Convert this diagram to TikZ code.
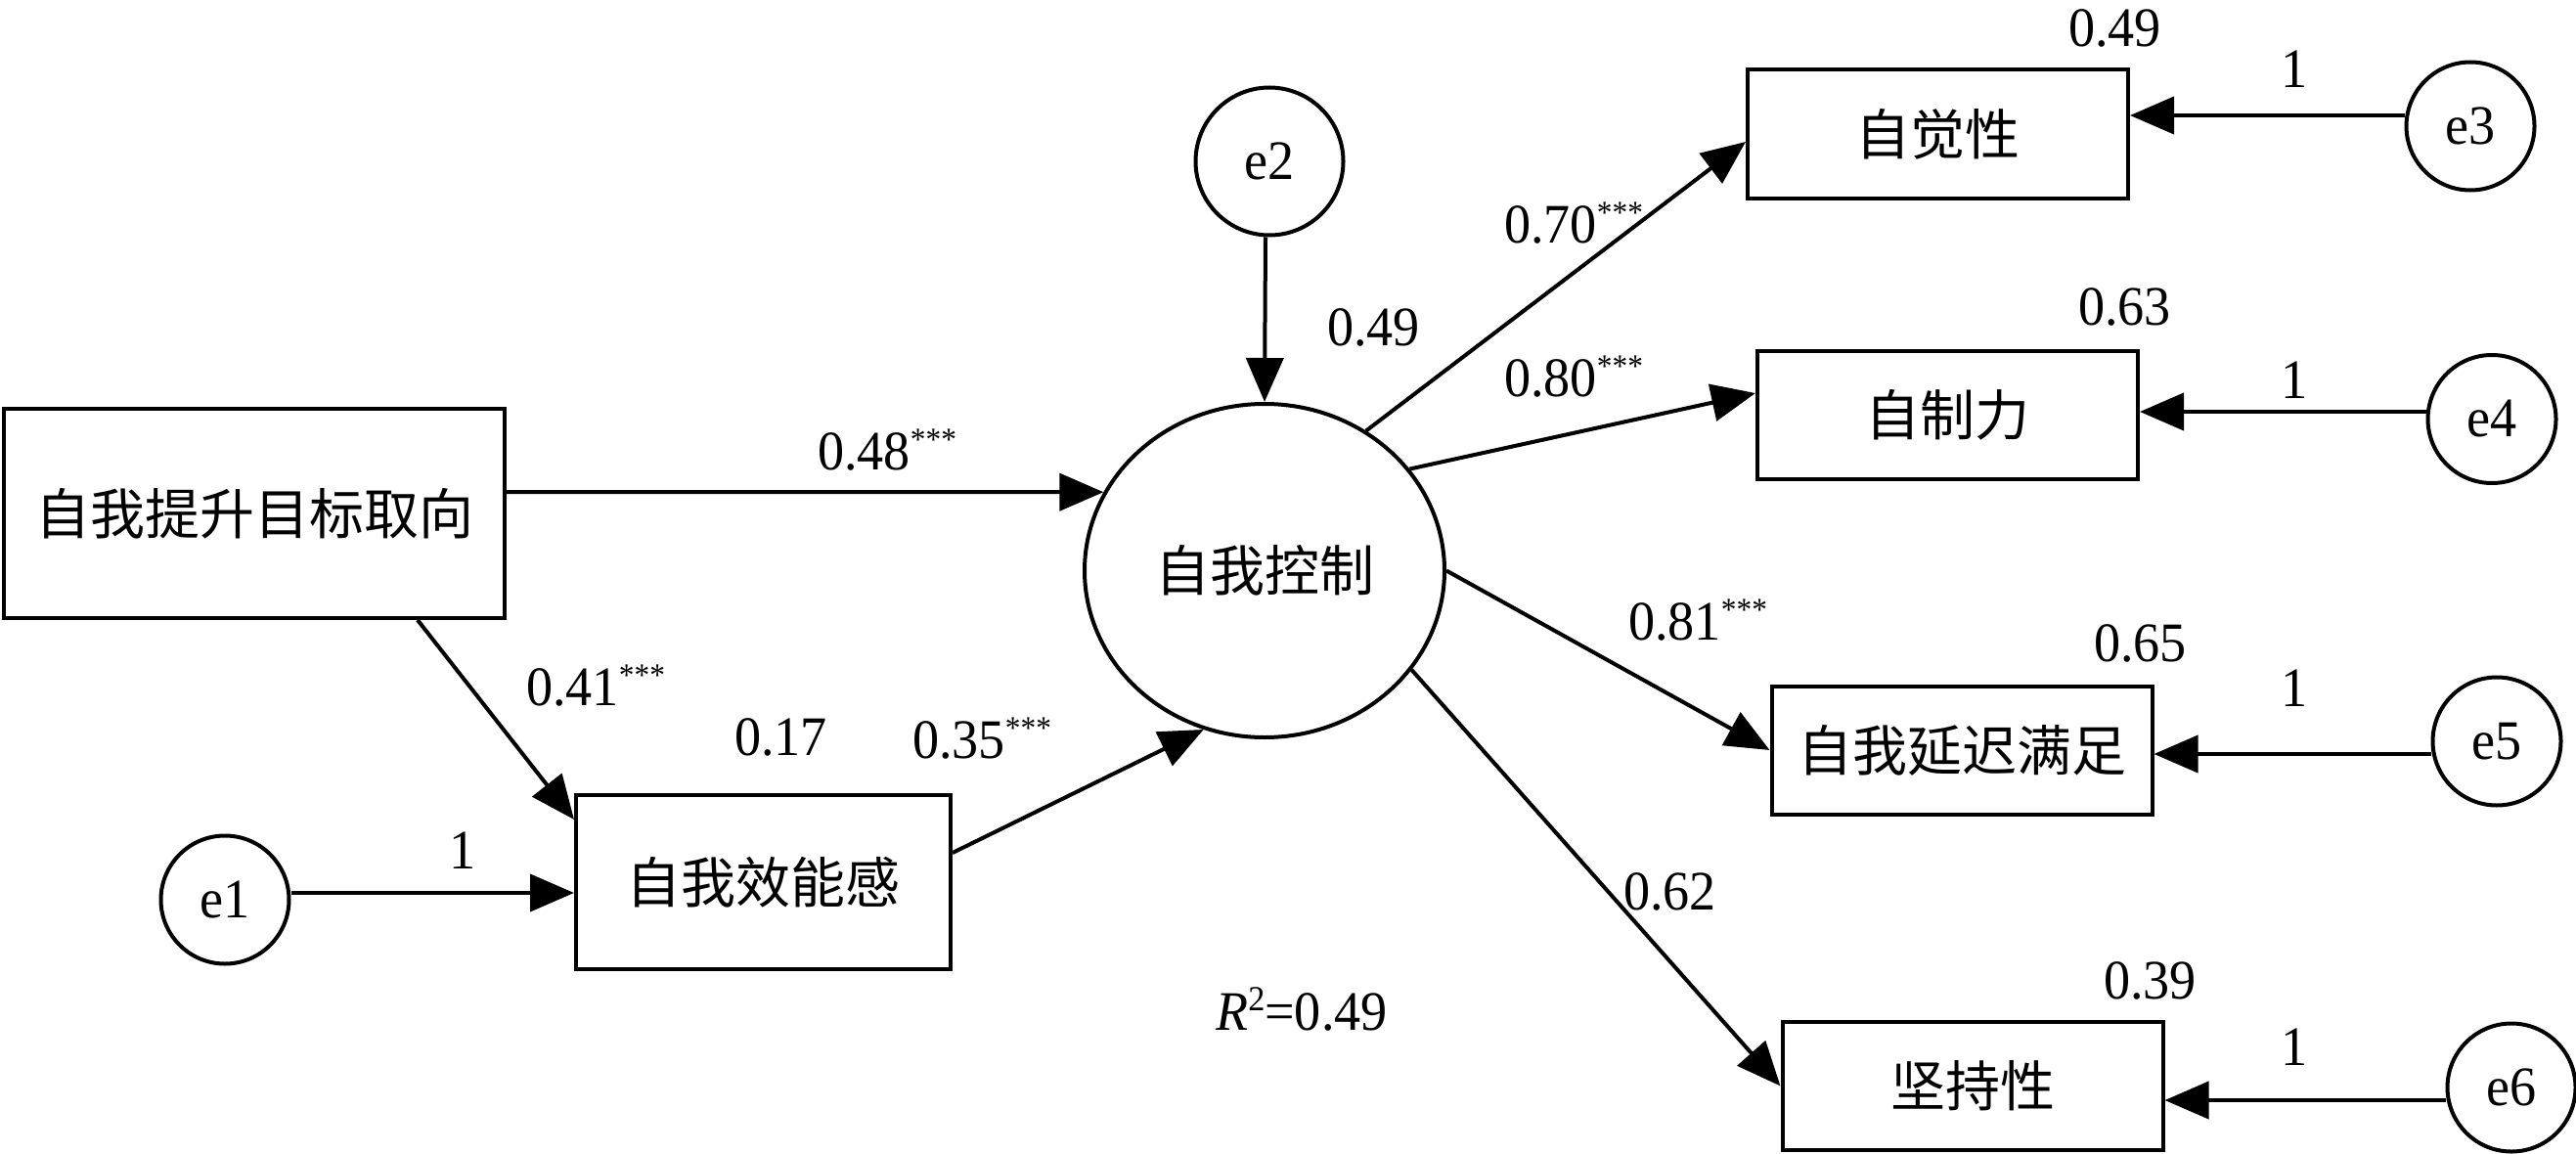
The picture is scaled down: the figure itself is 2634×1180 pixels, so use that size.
\documentclass[tikz,border=0pt]{standalone}
\usepackage{fontspec}
\setmainfont[FakeStretch=0.95]{Liberation Serif}
\newfontfamily\cjk{Noto Sans CJK SC}
\usetikzlibrary{arrows.meta,shapes.geometric}
\newcommand\stars{\raisebox{20pt}{\fontsize{33}{33}\selectfont ***}}
\begin{document}
\begin{tikzpicture}[x=1pt,y=-1pt,
  box/.style={draw,line width=4pt,inner sep=0pt,font=\cjk\fontsize{56}{60}\selectfont},
  obs/.style={box,minimum width=389pt,minimum height=131pt},
  err/.style={draw,circle,line width=4pt,inner sep=0pt,minimum size=131pt,font=\fontsize{57}{60}\selectfont},
  arr/.style={line width=4pt,-{Triangle[length=45pt,width=38pt]}},
  lab/.style={anchor=base west,inner sep=0pt,font=\fontsize{57}{60}\selectfont}]
\useasboundingbox (0,0) rectangle (2634,1180);
% nodes
\node[box,minimum width=512pt,minimum height=214pt] (goal) at (260,525) {自我提升目标取向};
\node[box,minimum width=383pt,minimum height=178pt] (eff) at (780.5,902) {自我效能感};
\node[draw,ellipse,line width=4pt,inner sep=0pt,minimum width=368pt,minimum height=341pt,
      font=\cjk\fontsize{56}{60}\selectfont] (ctrl) at (1293,583.5) {自我控制};
\node[err,minimum size=151pt] (e2) at (1298,165) {e2};
\node[err] (e1) at (230,920) {e1};
\node[obs] (zjx) at (1981.5,137) {自觉性};
\node[obs] (zzl) at (1991.5,424) {自制力};
\node[obs] (ycmz) at (2006,767) {自我延迟满足};
\node[obs] (jcx) at (2017,1110.5) {坚持性};
\node[err] (e3) at (2526,129) {e3};
\node[err] (e4) at (2548,428.5) {e4};
\node[err] (e5) at (2553,758) {e5};
\node[err] (e6) at (2568,1112) {e6};
% connectors
\draw[arr] ([yshift=22pt]goal.east) -- (ctrl.154);
\draw[arr] ([xshift=167pt]goal.south) -- ([yshift=64pt]eff.west);
\draw[arr] ([yshift=7pt]e1.east) -- ([yshift=-11pt]eff.west);
\draw[arr] ([yshift=30pt]eff.east) -- (ctrl.249);
\draw[arr] ([xshift=-4pt]e2.south) -- (ctrl.north);
\draw[arr] (ctrl.54) -- ([yshift=-8pt]zjx.west);
\draw[arr] (ctrl.35) -- ([yshift=22pt]zzl.west);
\draw[arr] (ctrl.east) -- (ycmz.west);
\draw[arr] (ctrl.-34) -- (jcx.west);
\draw[arr] ([yshift=11pt]e3.west) -- ([yshift=19pt]zjx.east);
\draw[arr] ([yshift=7.5pt]e4.west) -- ([yshift=3pt]zzl.east);
\draw[arr] ([yshift=-13pt]e5.west) -- ([yshift=-4pt]ycmz.east);
\draw[arr] ([yshift=-13pt]e6.west) -- ([yshift=-14.5pt]jcx.east);
% labels
\node[lab] (l48) at (836,480) {0.48\stars};
\node[lab] (l41) at (538,721) {0.41\stars};
\node[lab] (l17) at (751,772) {0.17};
\node[lab] (l35) at (933,775) {0.35\stars};
\node[lab] (l1a) at (459,888) {1};
\node[lab] (lc49) at (1357,353) {0.49};
\node[lab] (l70) at (1538,248) {0.70\stars};
\node[lab] (l80) at (1538,405) {0.80\stars};
\node[lab] (l81) at (1665,654) {0.81\stars};
\node[lab] (l62) at (1660,930) {0.62};
\node[lab] (lr2) at (1243,1053) {\textit{R}\raisebox{20pt}{\fontsize{36}{36}\selectfont 2}=0.49};
\node[lab] (l49) at (2115,48) {0.49};
\node[lab] (l1b) at (2332,90) {1};
\node[lab] (l63) at (2125,332) {0.63};
\node[lab] (l1c) at (2332,407) {1};
\node[lab] (l65) at (2141,676) {0.65};
\node[lab] (l1d) at (2332,722) {1};
\node[lab] (l39) at (2151,1021) {0.39};
\node[lab] (l1e) at (2332,1089) {1};
\end{tikzpicture}
\end{document}
